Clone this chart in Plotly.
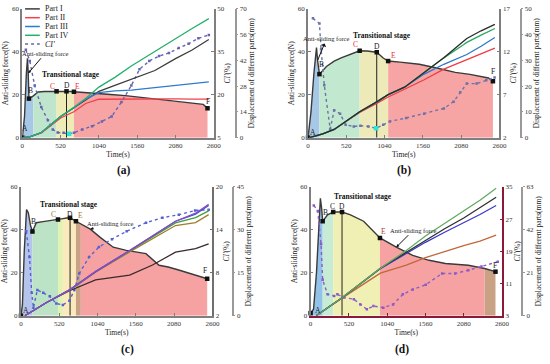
import plotly.graph_objects as go

FONT = "Liberation Serif"
W, H = 550, 364
TIME_TICKS = [0, 520, 1040, 1560, 2080, 2600]
FORCE_TICKS = [0, 20, 40, 60]
KEY_LABELS = ["A", "B", "C", "D", "E", "F"]

# ---------------- panel (a) ----------------
a_force_t = [0, 30, 55, 70, 80, 90, 150, 213, 300, 400, 465, 540, 600, 650, 701, 800, 900, 1057, 1200, 1400, 1555, 1800, 2080, 2300, 2457, 2515]
a_force_f = [0, 10, 30, 37, 30, 18.2, 19.5, 21.3, 21.5, 21.6, 21.6, 21.7, 21.6, 21.5, 21.4, 21.2, 21.0, 20.5, 20.1, 19.6, 19.0, 18.0, 16.8, 16.2, 15.5, 13.7]
a_key_t = [0, 90, 465, 600, 701, 2515]
a_stage_t = [0, 150, 465, 701, 2515]
a_disp_t = [0, 100, 260, 520, 700, 860, 1040, 1257, 1480, 1800, 2080, 2300, 2533]
a_part1 = [0, 0.5, 2.8, 11.5, 16.3, 20.4, 25.2, 28.4, 31.6, 36.5, 43.0, 47.5, 53.4]
a_part2 = [0, 0.5, 2.6, 10.7, 14.1, 18.6, 20.9, 21.0, 20.9, 20.9, 21.1, 21.0, 21.0]
a_part3 = [0, 0.5, 2.8, 11.5, 16.3, 21.0, 24.5, 25.4, 25.9, 27.2, 28.2, 29.2, 30.3]
a_part4 = [0, 0.5, 2.8, 11.5, 16.5, 21.3, 27.5, 32.8, 39.0, 47.0, 54.0, 59.2, 64.7]
a_ci_t = [48, 101, 168, 257, 347, 413, 480, 560, 635, 701, 813, 947, 1080, 1213, 1347, 1480, 1591, 1724, 1857, 1991, 2124, 2257, 2391, 2533]
a_ci = [35.7, 31.8, 23.2, 15.7, 11.1, 7.9, 6.8, 6.7, 6.4, 6.7, 7.9, 9.0, 10.7, 12.4, 17.5, 23.2, 28.9, 31.8, 33.5, 34.6, 36.3, 37.8, 39.7, 40.9]
a_ci_mark_t = 635
a_arrow_t = 80
a_ci_ticks = [5, 20, 35, 50]
a_disp_ticks = [0, 14, 28, 42, 56, 70]

# ---------------- panel (b) ----------------
b_force_t = [0, 40, 80, 115, 130, 155, 250, 355, 450, 533, 621, 701, 800, 933, 1021, 1088, 1250, 1400, 1511, 1733, 2000, 2200, 2356, 2450, 2511]
b_force_f = [0, 12, 30, 42, 36, 29.6, 33.2, 35.7, 37.2, 38.3, 39.4, 40.5, 40.4, 39.8, 37.1, 35.7, 35.2, 34.8, 34.2, 32.6, 30.4, 29.5, 28.5, 27.8, 26.3]
b_key_t = [0, 155, 701, 933, 1088, 2511]
b_stage_t = [0, 155, 701, 1088, 2511]
b_disp_t = [18, 200, 355, 520, 701, 933, 1088, 1311, 1577, 1844, 2111, 2156, 2350, 2537]
b_part1 = [0, 1.5, 3.2, 6.5, 10.1, 13.9, 16.7, 19.6, 25.3, 31.0, 37.4, 38.5, 41.5, 44.0]
b_part2 = [0, 1.5, 3.2, 6.3, 9.8, 13.3, 15.8, 18.8, 22.5, 26.6, 29.8, 30.3, 32.5, 34.8]
b_part3 = [0, 1.5, 3.2, 6.5, 10.1, 13.9, 16.7, 19.6, 24.7, 28.5, 31.7, 32.3, 35.5, 38.9]
b_part4 = [0, 1.5, 3.2, 6.5, 10.1, 13.9, 16.7, 19.6, 25.3, 31.0, 36.1, 37.0, 39.8, 42.4]
b_ci_t = [67, 155, 177, 221, 301, 355, 435, 511, 621, 711, 820, 924, 1021, 1111, 1333, 1577, 1844, 1977, 2067, 2156, 2289, 2421, 2533]
b_ci = [15.9, 15.3, 12.3, 8.1, 3.0, 5.2, 4.8, 3.5, 3.3, 3.4, 3.3, 3.1, 3.5, 3.9, 4.3, 4.8, 5.4, 6.2, 7.3, 8.3, 8.3, 8.7, 9.0]
b_ci_mark_t = 924
b_arrow_t = 130
b_ci_ticks = [2, 7, 12, 17]
b_disp_ticks = [0, 10, 20, 30, 40, 50]

# ---------------- panel (c) ----------------
c_force_t = [0, 20, 45, 65, 76, 100, 130, 156, 209, 300, 400, 503, 570, 620, 667, 747, 813, 942, 1076, 1253, 1431, 1560, 1698, 1876, 2000, 2142, 2300, 2409, 2529]
c_force_f = [0, 5, 30, 47, 49.4, 48, 42, 39.2, 43.3, 43.8, 44.2, 44.8, 45.2, 45.5, 45.6, 44, 42.8, 40.3, 36.5, 31.9, 30.4, 29.8, 28.9, 23.5, 22.7, 21.3, 19.5, 18.2, 17.2]
c_key_t = [0, 156, 503, 667, 747, 2529]
c_stage_t = [0, 156, 503, 570, 747, 813, 2529]
c_band_t = [813, 1431]
c_disp_t = [53, 348, 667, 1013, 1476, 1787, 2099, 2371, 2549]
c_part1 = [0, 4.6, 8.8, 12.5, 14.2, 17.7, 22.2, 23.4, 25.1]
c_part2 = [0, 4.6, 9.1, 15.2, 22.3, 27.0, 31.5, 32.5, 35.3]
c_part3 = [0, 4.6, 9.1, 15.4, 22.8, 27.9, 33.0, 35.5, 38.5]
c_part4 = [0, 4.6, 9.1, 15.4, 22.6, 27.5, 32.4, 34.3, 36.6]
c_part5 = [0, 4.6, 9.1, 15.4, 22.8, 27.9, 33.0, 35.8, 38.9]
c_ci_t = [72, 116, 146, 169, 223, 303, 392, 480, 569, 659, 725, 792, 925, 1059, 1236, 1436, 1699, 1920, 2143, 2365, 2549]
c_ci = [13.8, 10.2, 5.2, 3.1, 5.6, 5.2, 4.7, 3.7, 3.5, 4.1, 5.6, 7.9, 10.2, 11.6, 12.7, 13.8, 15.0, 15.7, 16.1, 16.7, 16.8]
c_arrow_t = 942
c_ci_ticks = [2, 8, 14, 20]
c_disp_ticks = [0, 15, 30, 45]

# ---------------- panel (d) ----------------
d_force_t = [0, 40, 80, 110, 133, 150, 164, 231, 307, 427, 542, 720, 809, 942, 1164, 1387, 1609, 1831, 2142, 2364, 2511]
d_force_f = [1.2, 3, 20, 42, 54.7, 50, 44, 47, 48.3, 48.3, 47, 44, 41, 36.2, 31.9, 28.1, 25.8, 24.3, 23.5, 22, 20.5]
d_key_t = [0, 164, 307, 427, 942, 2511]
d_stage_t = [0, 164, 307, 942, 2364, 2511]
d_band_t = [942, 1387]
d_disp_t = [76, 427, 947, 1300, 1560, 1820, 2080, 2300, 2520]
d_part1 = [0, 8.8, 23.2, 31.1, 37.0, 42.5, 47.8, 53.0, 57.9]
d_part2 = [0, 8.6, 20.8, 24.7, 28.4, 31.5, 34.3, 36.5, 39.4]
d_part3 = [0, 8.8, 23.0, 30.3, 35.9, 40.8, 45.5, 49.5, 53.9]
d_part4 = [0, 8.8, 23.2, 31.9, 39.0, 45.0, 51.0, 56.5, 62.3]
d_ci_t = [44, 98, 142, 164, 231, 320, 364, 453, 587, 676, 764, 853, 987, 1120, 1253, 1387, 1564, 1787, 1964, 2142, 2320, 2542]
d_ci = [30.4, 29.0, 20.8, 11.9, 8.3, 7.9, 8.3, 7.5, 7.1, 5.8, 4.6, 5.4, 5.0, 5.8, 8.3, 9.5, 10.7, 13.5, 13.5, 14.3, 15.2, 16.4]
d_arrow_t = 1164
d_ci_ticks = [3, 11, 19, 27, 35]
d_disp_ticks = [0, 21, 42, 63]

BAND_DEPTH = 7


def px(x):
    return x / W


def py(y):
    return 1 - y / H


panels = [
    dict(force_t=a_force_t, force_f=a_force_f, key_t=a_key_t, stage_t=a_stage_t,
         stage_colors=["#a6c8e6", "#bfe6cc", "#eeebb6", "#f6a4a4"],
         band_t=None,
         disp_t=a_disp_t,
         parts=[(a_part1, "#3c3c3c"), (a_part2, "#f2404a"), (a_part3, "#2b7bd0"), (a_part4, "#25b06a")],
         ci_t=a_ci_t, ci=a_ci, ci_color="#6464b4", ci_mark_t=a_ci_mark_t,
         ci_ticks=a_ci_ticks, disp_ticks=a_disp_ticks, arrow_t=a_arrow_t,
         arrow_off=(17, -20), arrow_side="end",
         key_colors=["#222", "#222", "#e8303a", "#222", "#e8303a", "#222"],
         key_shift=[(3, 9), (2, 8), (-4, 5), (0, 6), (4, 5), (0, 7)],
         xdom=[px(20.7), px(215.7)], ydom=[py(136.7), py(5)], disp_pos=px(238),
         axcol="#7f7f7f", cicol="#7f7f7f", trans=(70, 72.5), label="(a)", label_xy=(124, 170)),
    dict(force_t=b_force_t, force_f=b_force_f, key_t=b_key_t, stage_t=b_stage_t,
         stage_colors=["#a6c8e6", "#c3e8d0", "#ede9b8", "#f6a4a4"],
         band_t=None,
         disp_t=b_disp_t,
         parts=[(b_part2, "#f03c46"), (b_part3, "#2a78c8"), (b_part4, "#27a862"), (b_part1, "#2a2a2a")],
         ci_t=b_ci_t, ci=b_ci, ci_color="#6a74a8", ci_mark_t=b_ci_mark_t,
         ci_ticks=b_ci_ticks, disp_ticks=b_disp_ticks, arrow_t=b_arrow_t,
         arrow_off=(9, -22), arrow_side="start",
         key_colors=["#222", "#222", "#e8303a", "#222", "#e8303a", "#222"],
         key_shift=[(5, 5), (2, 10), (-4, 6), (0, 6), (5, 6), (0, 10)],
         xdom=[px(311.7), px(506.7)], ydom=[py(136.7), py(5)], disp_pos=px(528.3),
         axcol="#7f7f7f", cicol="#7f7f7f", trans=(386.7, 32), label="(b)", label_xy=(409, 170)),
    dict(force_t=c_force_t, force_f=c_force_f, key_t=c_key_t, stage_t=c_stage_t,
         stage_colors=["#b4c4ea", "#bde3c6", "#e2f2b4", "#fbeabb", "#c9a286", "#f6a2a2"],
         band_t=c_band_t,
         disp_t=c_disp_t,
         parts=[(c_part1, "#3a2a2a"), (c_part2, "#a07e2c"), (c_part4, "#3f9f3f"), (c_part3, "#3050d0"), (c_part5, "#9448c4")],
         ci_t=c_ci_t, ci=c_ci, ci_color="#5563d0", ci_mark_t=None,
         ci_ticks=c_ci_ticks, disp_ticks=c_disp_ticks, arrow_t=c_arrow_t,
         arrow_off=(20, -6), arrow_side="end",
         key_colors=["#222", "#222", "#a07a2a", "#222", "#a07a2a", "#222"],
         key_shift=[(5, 5), (1, 10), (-4, 5), (0, 3), (5, 6), (-2, 8)],
         xdom=[px(19.3), px(214.3)], ydom=[py(318.7), py(187)], disp_pos=px(235),
         axcol="#7f7f7f", cicol="#6f6f6f", trans=(68, 204.5), label="(c)", label_xy=(128, 353)),
    dict(force_t=d_force_t, force_f=d_force_f, key_t=d_key_t, stage_t=d_stage_t,
         stage_colors=["#92c2e8", "#c6ecd6", "#f1f0b4", "#f6a2a2", "#c9a286"],
         band_t=d_band_t,
         disp_t=d_disp_t,
         parts=[(d_part2, "#c06838"), (d_part3, "#3a3ad0"), (d_part1, "#303030"), (d_part4, "#62aa62")],
         ci_t=d_ci_t, ci=d_ci, ci_color="#8a5cc8", ci_mark_t=None,
         ci_ticks=d_ci_ticks, disp_ticks=d_disp_ticks, arrow_t=d_arrow_t,
         arrow_off=(17, -17), arrow_side="end",
         key_colors=["#222", "#222", "#222", "#222", "#a84030", "#222"],
         key_shift=[(7, 3), (3, 9), (-1, 6), (0, 6), (4, 6), (0, 6)],
         xdom=[px(314.3), px(509.3)], ydom=[py(318.7), py(187)], disp_pos=px(530),
         axcol="#7f7f7f", cicol="#8b1a3a", trans=(368, 196.5), label="(d)", label_xy=(407, 353)),
]

fig = go.Figure()
layout = {}
annotations = []
shapes = []

for i, P in enumerate(panels):
    n = i + 1
    xa = "x" if n == 1 else f"x{n}"
    ybase = 3 * i + 1
    yf = "y" if ybase == 1 else f"y{ybase}"
    yc = f"y{ybase + 1}"
    yd = f"y{ybase + 2}"
    ft, ff = P["force_t"], P["force_f"]

    # stage fills under the anti-sliding force curve
    st = P["stage_t"]
    for k in range(len(st) - 1):
        i0, i1 = ft.index(st[k]), ft.index(st[k + 1])
        fig.add_trace(go.Scatter(x=ft[i0:i1 + 1], y=ff[i0:i1 + 1], fill="tozeroy", mode="none",
                                 fillcolor=P["stage_colors"][k], hoverinfo="skip",
                                 xaxis=xa, yaxis=yf))
    if P["band_t"]:
        i0, i1 = ft.index(P["band_t"][0]), ft.index(P["band_t"][1])
        seg_t = ft[i0:i1 + 1]
        seg_f = ff[i0:i1 + 1]
        fig.add_trace(go.Scatter(x=seg_t, y=[max(0, v - BAND_DEPTH) for v in seg_f], mode="none",
                                 hoverinfo="skip", xaxis=xa, yaxis=yf))
        fig.add_trace(go.Scatter(x=seg_t, y=seg_f, mode="none", fill="tonexty",
                                 fillcolor="rgba(175,130,95,0.75)", hoverinfo="skip",
                                 xaxis=xa, yaxis=yf))

    # force curve
    fig.add_trace(go.Scatter(x=ft, y=ff, mode="lines", line=dict(color="#3a3a3a", width=1.4),
                             xaxis=xa, yaxis=yf))
    # vertical line at D
    tD = P["key_t"][3]
    fD = ff[ft.index(tD)]
    fig.add_trace(go.Scatter(x=[tD, tD], y=[0, fD], mode="lines", line=dict(color="#222", width=1),
                             xaxis=xa, yaxis=yf))
    # key points
    kf = [ff[ft.index(t)] for t in P["key_t"]]
    fig.add_trace(go.Scatter(x=P["key_t"], y=kf, mode="markers",
                             marker=dict(symbol="square", size=4.5, color="#111"),
                             cliponaxis=False, xaxis=xa, yaxis=yf))

    # CI' curve
    fig.add_trace(go.Scatter(x=P["ci_t"], y=P["ci"], mode="lines+markers",
                             line=dict(color=P["ci_color"], width=1.4, dash="dot"),
                             marker=dict(symbol="square", size=2.5, color=P["ci_color"]),
                             xaxis=xa, yaxis=yc))
    if P["ci_mark_t"] is not None:
        j = P["ci_t"].index(P["ci_mark_t"])
        fig.add_trace(go.Scatter(x=[P["ci_t"][j]], y=[P["ci"][j]], mode="markers",
                                 marker=dict(symbol="square", size=4.5, color="#2ee6d6"),
                                 xaxis=xa, yaxis=yc))

    # displacement curves
    for vals, col in P["parts"]:
        fig.add_trace(go.Scatter(x=P["disp_t"], y=vals, mode="lines",
                                 line=dict(color=col, width=1.3), xaxis=xa, yaxis=yd))

    tickfont = dict(family=FONT, size=7, color="#333")
    titlefont = dict(family=FONT, size=7.5, color="#222")
    xcol = P["cicol"] if n == 4 else P["axcol"]
    xkey = "xaxis" if n == 1 else f"xaxis{n}"
    layout[xkey] = dict(domain=P["xdom"], anchor=yf, range=[0, 2600], tickvals=TIME_TICKS,
                        ticks="inside", ticklen=2.5, tickcolor=xcol,
                        showline=True, linecolor=xcol, linewidth=1.5,
                        showgrid=False, zeroline=False, tickfont=tickfont,
                        title=dict(text="Time(s)", font=titlefont, standoff=3))
    yfkey = "yaxis" if ybase == 1 else f"yaxis{ybase}"
    layout[yfkey] = dict(domain=P["ydom"], anchor=xa, range=[0, 60], tickvals=FORCE_TICKS,
                         ticks="inside", ticklen=2.5, tickcolor=P["axcol"],
                         showline=True, linecolor=P["axcol"], linewidth=2,
                         showgrid=False, zeroline=False, tickfont=tickfont,
                         title=dict(text="Anti-sliding force(N)", font=titlefont, standoff=2))
    cir = P["ci_ticks"]
    layout[f"yaxis{ybase + 1}"] = dict(overlaying=yf, side="right", anchor=xa,
                                       range=[cir[0], cir[-1]], tickvals=cir,
                                       ticks="inside", ticklen=2.5, tickcolor=P["cicol"],
                                       showline=True, linecolor=P["cicol"], linewidth=2,
                                       showgrid=False, zeroline=False, tickfont=tickfont,
                                       title=dict(text="<i>CI'</i>(%)", font=titlefont, standoff=1))
    dt = P["disp_ticks"]
    layout[f"yaxis{ybase + 2}"] = dict(overlaying=yf, side="right", anchor="free",
                                       position=P["disp_pos"], range=[dt[0], dt[-1]], tickvals=dt,
                                       ticks="outside", ticklen=2, tickcolor="#999",
                                       showline=True, linecolor="#999", linewidth=1.5,
                                       showgrid=False, zeroline=False, tickfont=tickfont,
                                       title=dict(text="Displacement of different parts(mm)",
                                                  font=titlefont, standoff=1))

    # key letters
    for lab, t, f, col, sh in zip(KEY_LABELS, P["key_t"], kf, P["key_colors"], P["key_shift"]):
        annotations.append(dict(x=t, y=f, xref=xa, yref=yf, text=lab, showarrow=False,
                                xshift=sh[0], yshift=sh[1],
                                font=dict(family=FONT, size=7.5, color=col)))
    # Anti-sliding force callout
    ta = P["arrow_t"]
    annotations.append(dict(x=ta, y=ff[ft.index(ta)], xref=xa, yref=yf, text="Anti-sliding force",
                            showarrow=True, ax=P["arrow_off"][0], ay=P["arrow_off"][1],
                            arrowhead=2, arrowsize=0.6, arrowwidth=1, arrowcolor="#111",
                            arrowside=P["arrow_side"],
                            font=dict(family=FONT, size=6.5, color="#222")))
    # Transitional stage
    annotations.append(dict(x=px(P["trans"][0]), y=py(P["trans"][1]), xref="paper", yref="paper",
                            xanchor="center", yanchor="middle",
                            text="<b>Transitional stage</b>", showarrow=False,
                            font=dict(family=FONT, size=7.5, color="#111")))
    # panel label
    annotations.append(dict(x=px(P["label_xy"][0]), y=py(P["label_xy"][1]), xref="paper", yref="paper",
                            xanchor="center", yanchor="middle",
                            text=f"<b>{P['label']}</b>", showarrow=False,
                            font=dict(family=FONT, size=11.5, color="#111")))

# manual legend for panel (a)
legend_items = [("Part I", "#3c3c3c", "solid"), ("Part II", "#f2404a", "solid"),
                ("Part III", "#2b7bd0", "solid"), ("Part IV", "#25b06a", "solid"),
                ("<i>CI'</i>", "#6464b4", "dot")]
leg_y = [5, 14, 23, 32, 41]
for (txt, col, dash), yy in zip(legend_items, leg_y):
    shapes.append(dict(type="line", xref="paper", yref="paper", x0=px(23.5), x1=px(38.5),
                       y0=py(yy), y1=py(yy), line=dict(color=col, width=1.5, dash=dash)))
    annotations.append(dict(x=px(41.5), y=py(yy), xref="paper", yref="paper", text=txt,
                            showarrow=False, xanchor="left", yanchor="middle",
                            font=dict(family=FONT, size=8, color="#222")))

fig.update_layout(width=W, height=H, margin=dict(l=0, r=0, t=0, b=0),
                  paper_bgcolor="white", plot_bgcolor="white", showlegend=False,
                  font=dict(family=FONT, size=7, color="#222"),
                  annotations=annotations, shapes=shapes, **layout)

fig.write_html("out.html", config={"displayModeBar": False},
               post_script="document.body.style.margin='0px';")
